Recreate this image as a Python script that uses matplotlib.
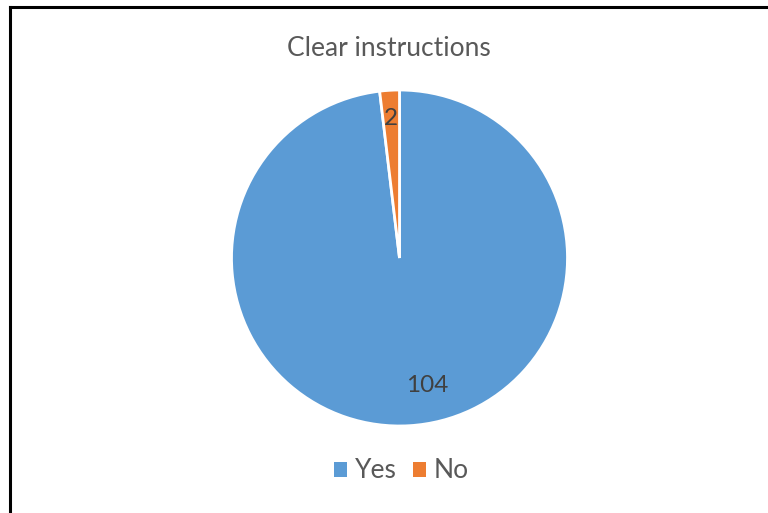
import matplotlib
matplotlib.use("Agg")
import matplotlib.pyplot as plt
from matplotlib.lines import Line2D
from matplotlib.patches import Patch
import numpy as np

categories = ["Yes", "No"]
values = [104, 2]
colors = ["#5B9BD5", "#ED7D31"]
title = "Clear instructions"

plt.rcParams['font.family'] = ['Lato', 'DejaVu Sans']

W, H = 768, 513
fig = plt.figure(figsize=(W / 100, H / 100), dpi=100)
fig.patch.set_facecolor("white")

cx, cy, r = 399.5, 258, 168
ax = fig.add_axes([(cx - r) / W, (H - cy - r) / H, 2 * r / W, 2 * r / H])
wedges, _ = ax.pie(values, colors=colors, startangle=90, counterclock=False,
                   wedgeprops=dict(edgecolor="white", linewidth=2))
ax.set_xlim(-1, 1)
ax.set_ylim(-1, 1)
ax.set_aspect("equal")
ax.axis("off")

# data labels
label_pos = {0: (0.775, 9), 1: (0.83, 0)}
for i, w in enumerate(wedges):
    ang = np.deg2rad((w.theta1 + w.theta2) / 2 + label_pos[i][1])
    d = label_pos[i][0]
    ax.text(d * np.cos(ang), d * np.sin(ang), str(values[i]), ha="center", va="center",
            fontsize=17.5, color="#404040")

fig.text(388.5 / W, 1 - 48 / H, title, ha="center", va="center", fontsize=19, color="#595959")

handles = [Patch(facecolor=c, edgecolor="none") for c in colors]
fig.legend(handles, categories, loc="center", bbox_to_anchor=(401.5 / W, 1 - 471 / H),
           ncol=2, frameon=False, fontsize=19, labelcolor="#595959",
           handlelength=0.5, handleheight=0.5, handletextpad=0.3, columnspacing=0.6)

# chart border (left and top)
fig.add_artist(Line2D([10 / W, 10 / W], [0, 1 - 7 / H], transform=fig.transFigure,
                      color="black", linewidth=2.2, solid_capstyle="projecting"))
fig.add_artist(Line2D([10 / W, 1], [1 - 7 / H, 1 - 7 / H], transform=fig.transFigure,
                      color="black", linewidth=2.2, solid_capstyle="projecting"))

fig.savefig("out.png", dpi=100, facecolor="white")
